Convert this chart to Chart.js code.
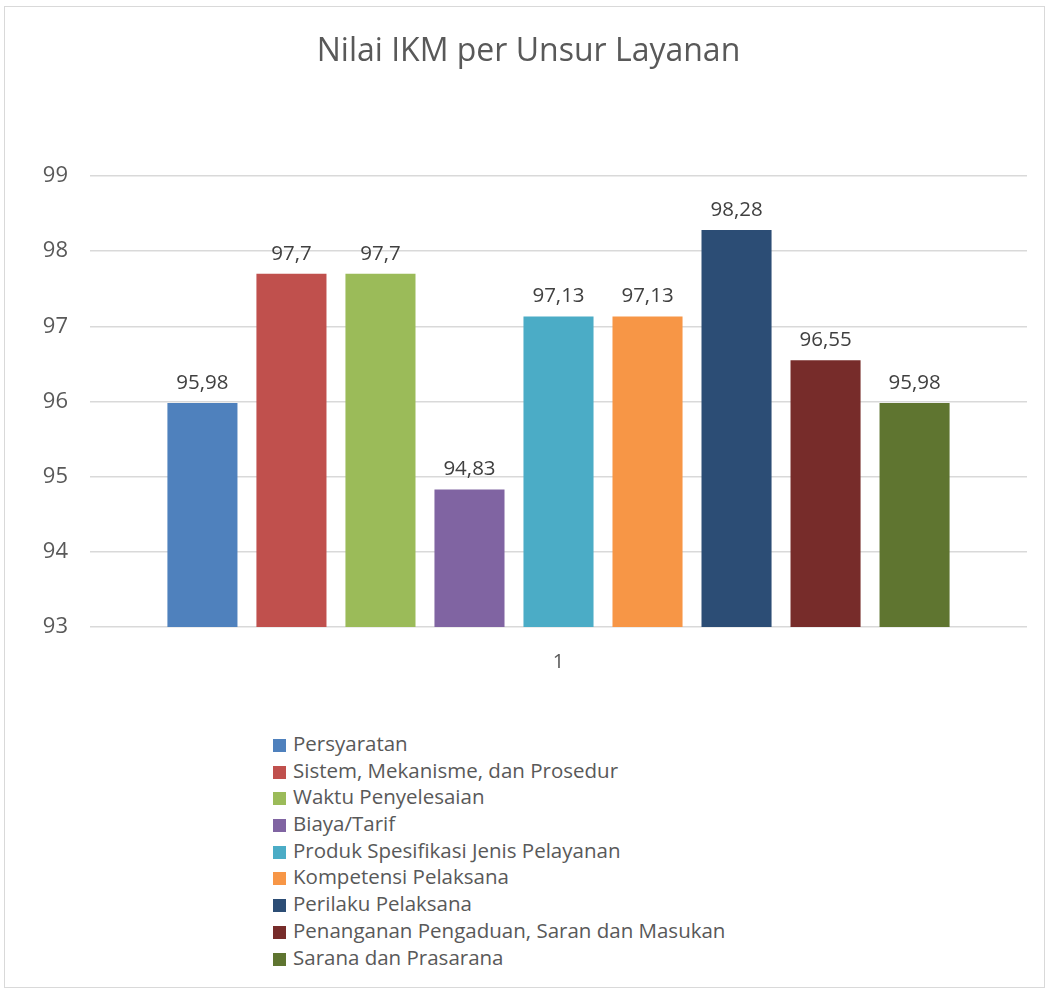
<!DOCTYPE html>
<html>
<head>
<meta charset="utf-8">
<script src="https://cdn.jsdelivr.net/npm/chart.js@4.4.0/dist/chart.umd.min.js"></script>
<style>
  body { margin: 0; background: #fff; font-family: "Open Sans", sans-serif; }
  .frame { position: absolute; left: 4px; top: 6px; width: 1039px; height: 980px; border: 1px solid #d9d9d9; }
  .bar-chart { position: absolute; left: 0; top: 0; width: 1048px; height: 700px; }
  .legend { position: absolute; left: 273px; top: 730px; color: #595959; font-size: 20.5px; }
  .legend div { height: 26.7px; line-height: 26.7px; white-space: nowrap; }
  .legend span { display: inline-block; width: 13px; height: 13px; margin-right: 7px; vertical-align: -1px; }
</style>
</head>
<body>
<div class="frame"></div>
<div class="bar-chart"><canvas id="c" width="1048" height="700"></canvas></div>
<div class="legend" id="legend"></div>
<script>
const categories = ["1"];
const unsur = [
  "Persyaratan",
  "Sistem, Mekanisme, dan Prosedur",
  "Waktu Penyelesaian",
  "Biaya/Tarif",
  "Produk Spesifikasi Jenis Pelayanan",
  "Kompetensi Pelaksana",
  "Perilaku Pelaksana",
  "Penanganan Pengaduan, Saran dan Masukan",
  "Sarana dan Prasarana"
];
const nilai = [95.98, 97.7, 97.7, 94.83, 97.13, 97.13, 98.28, 96.55, 95.98];
const colors = ["#4F81BD", "#C0504D", "#9BBB59", "#8064A2", "#4BACC6", "#F79646", "#2C4D75", "#772C2A", "#5F7530"];
const yTicks = [93, 94, 95, 96, 97, 98, 99];

// labels above bars (no datalabels plugin offline)
const barLabels = {
  id: "barLabels",
  afterDatasetsDraw(chart) {
    const ctx = chart.ctx;
    ctx.save();
    ctx.font = "20.5px 'Open Sans'";
    ctx.fillStyle = "#404040";
    ctx.textAlign = "center";
    ctx.textBaseline = "middle";
    chart.data.datasets.forEach((ds, i) => {
      chart.getDatasetMeta(i).data.forEach((bar, j) => {
        ctx.fillText(String(ds.data[j]).replace(".", ","), bar.x, bar.y - 20);
      });
    });
    ctx.restore();
  }
};

const chart = new Chart(document.getElementById("c"), {
  type: "bar",
  data: {
    labels: categories,
    datasets: unsur.map((u, i) => ({
      label: u,
      data: [nilai[i]],
      backgroundColor: colors[i],
      borderWidth: 0,
      categoryPercentage: 0.855,
      barPercentage: 0.787
    }))
  },
  options: {
    responsive: false,
    animation: false,
    layout: { padding: { left: 30, right: 21, top: 0, bottom: 11 } },
    plugins: {
      legend: { display: false },
      tooltip: { enabled: false },
      title: {
        display: true,
        text: "Nilai IKM per Unsur Layanan",
        color: "#595959",
        font: { family: "'Open Sans'", size: 32, weight: "normal" },
        padding: { top: 33, bottom: 104.6 }
      }
    },
    scales: {
      x: {
        grid: { display: false },
        border: { display: false },
        ticks: { color: "#595959", padding: 15, font: { family: "'Open Sans'", size: 20 } }
      },
      y: {
        min: 93,
        max: 99,
        afterFit(scale) { scale.width = 60; },
        afterBuildTicks(scale) { scale.ticks = yTicks.map(v => ({ value: v })); },
        border: { display: false },
        grid: { color: "#d9d9d9", lineWidth: 1.5, drawTicks: false },
        ticks: { color: "#595959", padding: 22, font: { family: "'Open Sans'", size: 22 } }
      }
    }
  },
  plugins: [barLabels]
});

const legend = document.getElementById("legend");
unsur.forEach((u, i) => {
  const row = document.createElement("div");
  row.innerHTML = `<span style="background:${colors[i]}"></span>${u}`;
  legend.appendChild(row);
});
</script>
</body>
</html>
